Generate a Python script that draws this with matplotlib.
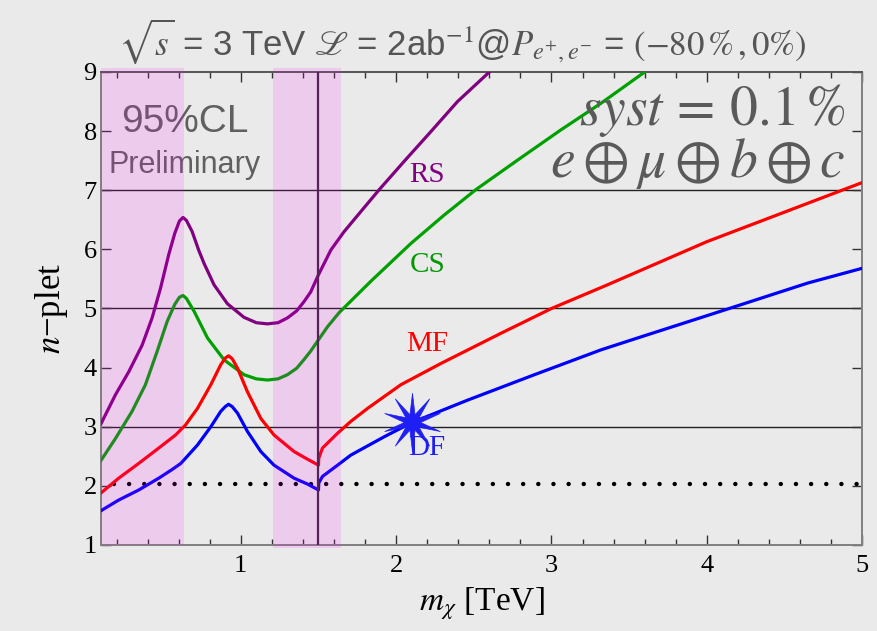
import matplotlib
matplotlib.use('Agg')
import matplotlib.pyplot as plt
from matplotlib.path import Path
from matplotlib.ticker import MultipleLocator

plt.rcParams['mathtext.fontset'] = 'stix'

# curves (m_chi in TeV, n-plet reach)
rs_x = [0.10, 0.193, 0.279, 0.365, 0.429, 0.483, 0.536, 0.575, 0.605, 0.628, 0.650,
        0.687, 0.73, 0.764, 0.828, 0.914, 1.021, 1.10, 1.172, 1.24, 1.30, 1.36,
        1.408, 1.45, 1.50, 1.58, 1.665, 1.773, 1.891, 2.052, 2.223, 2.395, 2.60]
rs_y = [3.05, 3.54, 3.93, 4.38, 4.84, 5.34, 5.91, 6.27, 6.48, 6.54, 6.49,
        6.30, 5.98, 5.76, 5.40, 5.08, 4.85, 4.76, 4.74, 4.76, 4.84, 4.96,
        5.12, 5.28, 5.57, 5.99, 6.30, 6.64, 7.01, 7.49, 7.99, 8.50, 9.00]

cs_x = [0.10, 0.193, 0.30, 0.386, 0.461, 0.526, 0.575, 0.605, 0.628, 0.650, 0.70,
        0.786, 0.893, 1.021, 1.10, 1.172, 1.24, 1.30, 1.36, 1.408, 1.45, 1.50,
        1.558, 1.633, 1.837, 2.095, 2.309, 2.513, 2.782, 3.06, 3.318, 3.60]
cs_y = [2.43, 2.80, 3.26, 3.71, 4.27, 4.78, 5.07, 5.19, 5.22, 5.17, 4.95,
        4.50, 4.13, 3.88, 3.81, 3.79, 3.81, 3.88, 3.99, 4.14, 4.28, 4.47,
        4.69, 4.93, 5.46, 6.10, 6.58, 7.01, 7.51, 8.02, 8.47, 9.00]

mf_x = [0.10, 0.214, 0.343, 0.472, 0.58, 0.644, 0.721, 0.807, 0.871, 0.90, 0.921,
        0.945, 0.979, 1.043, 1.129, 1.214, 1.343, 1.43, 1.50, 1.502, 1.526, 1.623,
        1.708, 1.816, 2.03, 2.288, 2.674, 3.00, 3.36, 4.00, 4.54, 5.00]
mf_y = [1.88, 2.13, 2.38, 2.64, 2.86, 3.03, 3.31, 3.71, 4.05, 4.16, 4.20,
        4.15, 3.99, 3.59, 3.14, 2.86, 2.58, 2.45, 2.35, 2.47, 2.64, 2.89,
        3.09, 3.31, 3.71, 4.07, 4.58, 5.00, 5.40, 6.13, 6.67, 7.13]

df_x = [0.10, 0.214, 0.343, 0.472, 0.56, 0.614, 0.721, 0.807, 0.871, 0.90, 0.921,
        0.945, 0.979, 1.043, 1.129, 1.214, 1.343, 1.43, 1.50, 1.502, 1.526, 1.623,
        1.708, 1.923, 2.10, 2.46, 2.89, 3.318, 3.576, 4.144, 4.649, 5.00]
df_y = [1.58, 1.76, 1.93, 2.13, 2.28, 2.38, 2.69, 3.00, 3.26, 3.34, 3.38,
        3.34, 3.23, 2.92, 2.58, 2.35, 2.13, 2.03, 1.93, 2.05, 2.16, 2.35,
        2.52, 2.83, 3.07, 3.45, 3.88, 4.30, 4.52, 5.00, 5.43, 5.68]

star_x = [2.10]
star_y = [3.08]

labels = ['RS', 'CS', 'MF', 'DF']
label_x = [2.2, 2.2, 2.2, 2.2]
label_y = [7.26, 5.74, 4.40, 2.64]
colors = ['#800080', '#00A000', '#FF0000', '#0000FF']
label_colors = ['#800080', '#009900', '#FF0000', '#1E1EF0']

bands = [(0.10, 0.633), (1.21, 1.644)]
m_cut = 1.5
grid_y = [3, 5, 7]
dot_y = 2.03

bg = '#EAEAEA'
fig = plt.figure(figsize=(8.78, 6.31), dpi=100, facecolor=bg)
ax = fig.add_axes([0.115, 0.1363, 0.867, 0.7496], facecolor=bg)

for gy in grid_y:
    ax.axhline(gy, color='#222222', lw=1.0, zorder=1)
ax.axhline(dot_y, color='k', lw=3.2, ls=(0.5, (0.01, 3.4)),
           dash_capstyle='round', zorder=2)

curves = [(rs_x, rs_y), (cs_x, cs_y), (mf_x, mf_y), (df_x, df_y)]
for (cx, cy), c in zip(curves, colors):
    ax.plot(cx, cy, color=c, lw=2.3, zorder=3, solid_joinstyle='round')

ax.axvline(m_cut, color='#3A2A3A', lw=1.6, zorder=4)

star = Path.unit_regular_star(10, 0.28)
ax.plot(star_x, star_y, ls='none', marker=star, ms=42, color='#1E1EF5',
        mec='#1E1EF5', mew=0.5, zorder=6)

for t, lx, ly, c in zip(labels, label_x, label_y, label_colors):
    ax.text(lx, ly, t, color=c, fontsize=21, family='Liberation Serif',
            ha='center', va='center', zorder=6)

# CL / preliminary tag (sits under the band tint)
ax.text(0.64, 7.99, '95%CL', fontsize=28, family='Liberation Sans',
        color='#606060', ha='center', va='baseline', zorder=3)
ax.text(0.64, 7.29, 'Preliminary', fontsize=22, family='Liberation Sans',
        color='#606060', ha='center', va='baseline', zorder=3)

ax.text(0.978, 0.888, r'$syst\,=\,0.1\,\%$', transform=ax.transAxes,
        fontsize=40, color='#5A5A5A', ha='right', va='baseline', zorder=3)
ax.text(0.978, 0.778, r'$e\oplus\mu\oplus b\oplus c$', transform=ax.transAxes,
        fontsize=40, color='#5A5A5A', ha='right', va='baseline', zorder=3)

for lo, hi in bands:
    ax.axvspan(lo, hi, ymin=-0.006 if lo > 1 else 0, ymax=1.008, color='magenta',
               alpha=0.13, lw=0, zorder=5, clip_on=False)

ax.set_xlim(0.1, 5.0)
ax.set_ylim(1, 9)
ax.xaxis.set_major_locator(MultipleLocator(1))
ax.xaxis.set_minor_locator(MultipleLocator(0.2))
ax.yaxis.set_major_locator(MultipleLocator(1))

ax.tick_params(which='both', direction='in', top=True, right=True, color='#333333')
ax.tick_params(which='major', length=7, width=1.0)
ax.tick_params(which='minor', length=4, width=1.0)
ax.tick_params(axis='x', pad=7, labelsize=19)
ax.tick_params(axis='y', pad=3, labelsize=19)
for lab in ax.get_xticklabels() + ax.get_yticklabels():
    lab.set_family('Liberation Serif')

for s in ['left', 'bottom', 'right']:
    ax.spines[s].set_color('#808080')
    ax.spines[s].set_linewidth(1.4)
ax.spines['top'].set_color('#555555')
ax.spines['top'].set_linewidth(1.4)

ax.set_xlabel(r'$m_\chi$ [TeV]', fontsize=24, family='Liberation Serif', labelpad=6)
ax.set_ylabel(r'$n$−plet', fontsize=25, family='Liberation Serif', labelpad=10)

title = r'$\sqrt{s}$ = 3 TeV $\mathscr{L}$ = 2ab$^{-1}$@$P_{e^{+},e^{-}}$ = $(-80\,\%\,,0\%)$'
fig.text(0.527, 0.935, title, ha='center', va='center', fontsize=25,
         color='#555555', family='Liberation Sans')

fig.savefig('out.png', dpi=100, facecolor=bg)
